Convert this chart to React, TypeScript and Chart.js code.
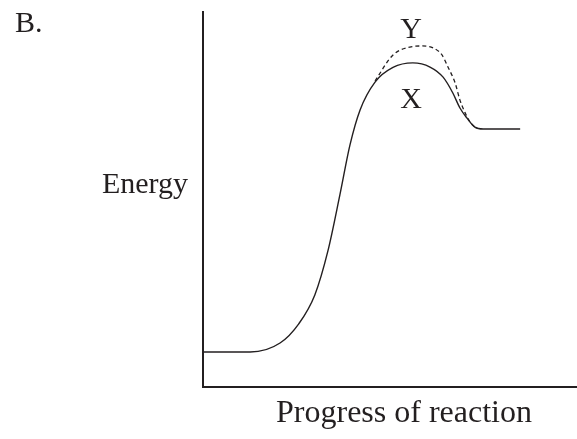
import React, { useEffect, useRef } from "react";
import { Chart, registerables } from "chart.js";

Chart.register(...registerables);

// Progress of reaction (0-100) and energy (0-100)
const xProgress = [0, 12.6, 20.6, 25.6, 29.9, 33.4, 36.6, 39.3, 42.0, 46.0, 50.8, 56.1, 60.7, 64.2, 66.8, 68.7, 70.6, 72.7, 74.9, 84.8];
const xEnergy = [9.3, 9.3, 11.7, 16.8, 24.5, 36.2, 51.1, 64.4, 73.7, 81.1, 85.0, 86.2, 85.1, 82.4, 78.2, 74.2, 71.5, 69.1, 68.6, 68.6];

const yProgress = [46.0, 50.8, 55.3, 58.6, 61.5, 63.9, 65.5, 67.4, 68.7, 70.1, 71.4, 72.7];
const yEnergy = [81.4, 88.3, 90.4, 90.7, 90.2, 88.3, 85.1, 80.9, 76.3, 72.9, 70.5, 69.1];

const INK = "#231f20";
const FONT = "'Liberation Serif', 'Times New Roman', serif";

const labelsPlugin = {
  id: "labelsPlugin",
  afterDraw(chart: any) {
    const { ctx, chartArea } = chart;
    ctx.save();
    // axes
    ctx.strokeStyle = INK;
    ctx.lineWidth = 2;
    ctx.beginPath();
    ctx.moveTo(chartArea.left, chartArea.top);
    ctx.lineTo(chartArea.left, chartArea.bottom);
    ctx.lineTo(chartArea.right, chartArea.bottom);
    ctx.stroke();

    ctx.fillStyle = INK;
    ctx.textBaseline = "alphabetic";
    ctx.font = `30px ${FONT}`;
    ctx.textAlign = "left";
    ctx.fillText("B.", 15, 32);
    ctx.textAlign = "center";
    ctx.fillText("Y", 411, 38);
    ctx.fillText("X", 411, 108);
    ctx.textAlign = "right";
    ctx.fillText("Energy", 188, 193);
    ctx.font = `32px ${FONT}`;
    ctx.textAlign = "center";
    ctx.fillText("Progress of reaction", 404, 422);
    ctx.restore();
  },
};

export default function App() {
  const ref = useRef<HTMLCanvasElement | null>(null);
  useEffect(() => {
    if (!ref.current) return;
    const chart = new Chart(ref.current, {
      type: "line",
      data: {
        datasets: [
          {
            label: "X",
            data: xProgress.map((x, i) => ({ x, y: xEnergy[i] })),
            borderColor: INK,
            borderWidth: 1.4,
            pointRadius: 0,
            cubicInterpolationMode: "monotone",
            fill: false,
          },
          {
            label: "Y",
            data: yProgress.map((x, i) => ({ x, y: yEnergy[i] })),
            borderColor: INK,
            borderWidth: 1.3,
            borderDash: [4, 3],
            pointRadius: 0,
            cubicInterpolationMode: "monotone",
            fill: false,
          },
        ],
      },
      options: {
        responsive: false,
        animation: false,
        layout: { padding: { left: 203, top: 11, right: 0, bottom: 52 } },
        plugins: { legend: { display: false }, tooltip: { enabled: false } },
        scales: {
          x: { type: "linear", min: 0, max: 100, display: false },
          y: { type: "linear", min: 0, max: 100, display: false },
        },
      },
      plugins: [labelsPlugin],
    } as any);
    return () => chart.destroy();
  }, []);
  return (
    <div style={{ position: "fixed", left: 0, top: 0, width: 577, height: 439, background: "#fff" }}>
      <canvas ref={ref} width={577} height={439} style={{ width: 577, height: 439 }} />
    </div>
  );
}
